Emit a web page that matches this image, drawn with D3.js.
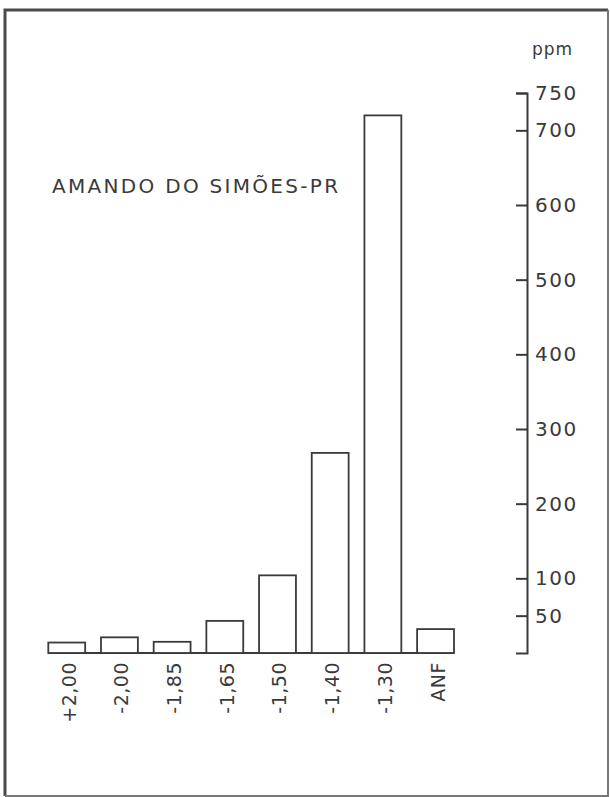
<!DOCTYPE html>
<html><head><meta charset="utf-8">
<script src="https://cdn.jsdelivr.net/npm/d3@7"></script>
<style>html,body{margin:0;padding:0;background:#fff;}svg{display:block;}</style>
</head><body>
<script>
const categories = ["+2,00","-2,00","-1,85","-1,65","-1,50","-1,40","-1,30","ANF"];
const values = [14, 21, 15, 43, 104, 268, 720, 32];
const tickValues = [50,100,200,300,400,500,600,700,750];
const title = "AMANDO DO SIMÕES-PR";
const unit = "ppm";

const W = 610, H = 797;
const ink = "#3a3a3a";
const svg = d3.select("body").append("svg").attr("width", W).attr("height", H);
svg.append("rect").attr("width", W).attr("height", H).attr("fill", "#fff");

// frame
svg.append("path").attr("d", `M5,796 V10 H608`).attr("fill","none")
  .attr("stroke", "#4a4a4a").attr("stroke-width", 3);
svg.append("path").attr("d", `M608,10 V796 H5`).attr("fill","none")
  .attr("stroke", "#777").attr("stroke-width", 2);

const x = d3.scaleBand().domain(categories).range([48.3, 454]).paddingInner(0.3).paddingOuter(0);
const y = d3.scaleLinear().domain([0, 750]).range([653, 93]);

// baseline
svg.append("line").attr("x1", x.range()[0]).attr("x2", x.range()[1])
  .attr("y1", y(0)).attr("y2", y(0)).attr("stroke", ink).attr("stroke-width", 2);

// bars
svg.selectAll("rect.bar").data(values).enter().append("rect").attr("class","bar")
  .attr("x", (d,i) => x(categories[i]))
  .attr("width", x.bandwidth())
  .attr("y", d => y(d))
  .attr("height", d => y(0) - y(d))
  .attr("fill", "#fff").attr("stroke", ink).attr("stroke-width", 1.8);

// category labels rotated
svg.selectAll("text.cat").data(categories).enter().append("text").attr("class","cat")
  .attr("transform", d => `translate(${x(d) + x.bandwidth()/2 + 2},${662}) rotate(-90)`)
  .attr("text-anchor", "end").attr("dominant-baseline", "central")
  .attr("font-family", "DejaVu Sans").attr("font-size", 19).attr("letter-spacing", 0.5)
  .attr("fill", ink).text(d => d);

// right axis
const axis = d3.axisRight(y).tickValues(tickValues).tickSizeInner(-11).tickSizeOuter(-11).tickPadding(8)
  .tickFormat(d3.format("d"));
const gA = svg.append("g").attr("transform", "translate(527,0)").call(axis);
gA.select(".domain").attr("stroke", ink).attr("stroke-width", 2);
gA.selectAll(".tick line").attr("stroke", ink).attr("stroke-width", 2);
gA.selectAll(".tick text").attr("font-family", "DejaVu Sans").attr("font-size", 20)
  .attr("letter-spacing", 1.5).attr("fill", ink);

// unit
svg.append("text").attr("x", 532).attr("y", 55).attr("font-family", "DejaVu Sans")
  .attr("font-size", 17).attr("letter-spacing", 1).attr("fill", ink).text(unit);

// title
svg.append("text").attr("x", 52).attr("y", 193).attr("font-family", "DejaVu Sans")
  .attr("font-size", 20).attr("letter-spacing", 2.3).attr("fill", ink).text(title);
</script>
</body></html>
